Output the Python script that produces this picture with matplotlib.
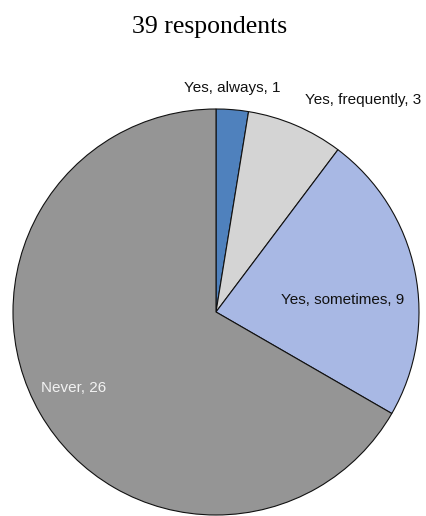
import matplotlib
matplotlib.use("Agg")
import matplotlib.pyplot as plt

# Survey answers
labels = ["Yes, always", "Yes, frequently", "Yes, sometimes", "Never"]
counts = [1, 3, 9, 26]
colors = ["#4f81bd", "#d4d4d4", "#a8b8e4", "#959595"]
title = "39 respondents"

W, H = 426, 516
cx, cy, r = 216, 312, 203  # pie centre and radius in pixels

fig = plt.figure(figsize=(W / 100, H / 100), dpi=100)
ax = fig.add_axes([(cx - r) / W, (H - cy - r) / H, 2 * r / W, 2 * r / H])
ax.pie(counts, colors=colors, startangle=90, counterclock=False,
       wedgeprops=dict(edgecolor="#111111", linewidth=0.8))
ax.set_xlim(-1, 1)
ax.set_ylim(-1, 1)
ax.set_aspect("equal")
ax.axis("off")

# label centres in pixels
label_pos = [(232, 88), (363, 100), (343, 300), (74, 388)]
label_colors = ["#111111", "#111111", "#111111", "#f2f2f2"]
for lab, n, (px, py), c in zip(labels, counts, label_pos, label_colors):
    ax.text((px - cx) / r, (cy - py) / r, f"{lab}, {n}", ha="center", va="center",
            fontsize=11, color=c, family="Liberation Sans")

fig.text(210 / W, 1 - 27 / H, title, ha="center", va="center",
         fontsize=18.5, family="Liberation Serif")

fig.savefig("out.png", dpi=100)
